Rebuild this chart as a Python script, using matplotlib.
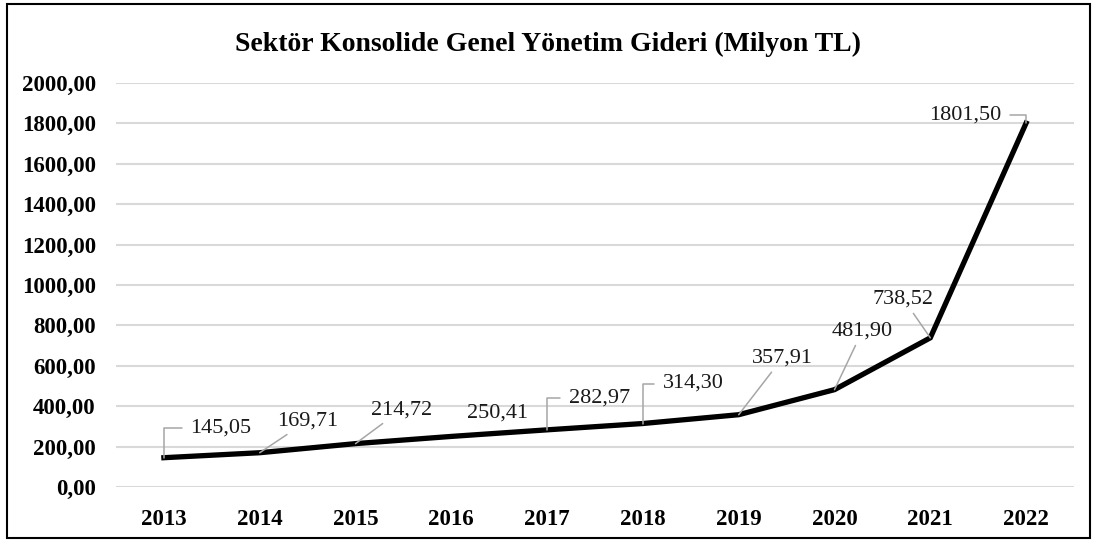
import matplotlib
matplotlib.use("Agg")
import matplotlib.pyplot as plt
from matplotlib.patches import Rectangle

years = ["2013", "2014", "2015", "2016", "2017", "2018", "2019", "2020", "2021", "2022"]
values = [145.05, 169.71, 214.72, 250.41, 282.97, 314.30, 357.91, 481.90, 738.52, 1801.50]
labels = ["145,05", "169,71", "214,72", "250,41", "282,97", "314,30", "357,91", "481,90", "738,52", "1801,50"]
yticks = [0, 200, 400, 600, 800, 1000, 1200, 1400, 1600, 1800, 2000]
ytick_labels = ["0,00", "200,00", "400,00", "600,00", "800,00", "1000,00", "1200,00",
                "1400,00", "1600,00", "1800,00", "2000,00"]
title = "Sektör Konsolide Genel Yönetim Gideri (Milyon TL)"

# label offsets (pixels) and leader style
offsets = [(57, 30), (48, 32), (46, 34), (46, 23), (52, 32), (50, 40), (44, 57), (28, 59), (-27, 39), (-61, 8)]
leaders = ["angle", "line", "line", None, "angle", "angle", "line", "line", "line", "angle"]

plt.rcParams['font.family'] = ['Liberation Serif', 'DejaVu Serif']

W, H = 1097, 543
fig = plt.figure(figsize=(W / 100, H / 100), dpi=100)
ax = fig.add_axes([116 / W, 1 - 487 / H, (1074 - 116) / W, (487 - 83) / H])

x = list(range(len(years)))
ax.plot(x, values, color='black', linewidth=3.8, solid_joinstyle='miter', zorder=3, clip_on=False)

ax.set_xlim(-0.5, len(years) - 0.5)
ax.set_ylim(0, 2000)
ax.set_yticks(yticks)
ax.set_yticklabels(ytick_labels, fontsize=16.5, fontweight='bold')
ax.set_xticks(x)
ax.set_xticklabels(years, fontsize=16.5, fontweight='bold')
ax.tick_params(axis='both', length=0)
ax.tick_params(axis='y', pad=14.5)
ax.tick_params(axis='x', pad=15.5)
ax.grid(axis='y', color='#d9d9d9', linewidth=1.5, zorder=0)
ax.set_axisbelow(True)
for s in ax.spines.values():
    s.set_visible(False)

for xi, v, lab, off, ld in zip(x, values, labels, offsets, leaders):
    ap = None
    if ld == "angle":
        ap = dict(arrowstyle='-', color='#a6a6a6', lw=1.1, shrinkA=4, shrinkB=0,
                  connectionstyle="angle,angleA=0,angleB=90,rad=0")
    elif ld == "line":
        ap = dict(arrowstyle='-', color='#a6a6a6', lw=1.1, shrinkA=2, shrinkB=0)
    ax.annotate(lab, xy=(xi, v), xytext=off, textcoords='offset pixels',
                ha='center', va='center', fontsize=16, color='#1a1a1a',
                arrowprops=ap, zorder=4, annotation_clip=False)

fig.text(548 / W, 1 - 44 / H, title, ha='center', va='center', fontsize=20, fontweight='bold')

fig.patches.append(Rectangle((7 / W, 1 - 538 / H), (1090 - 7) / W, (538 - 4) / H,
                             transform=fig.transFigure, fill=False, edgecolor='black', linewidth=1.5))

fig.savefig("out.png", dpi=100)
